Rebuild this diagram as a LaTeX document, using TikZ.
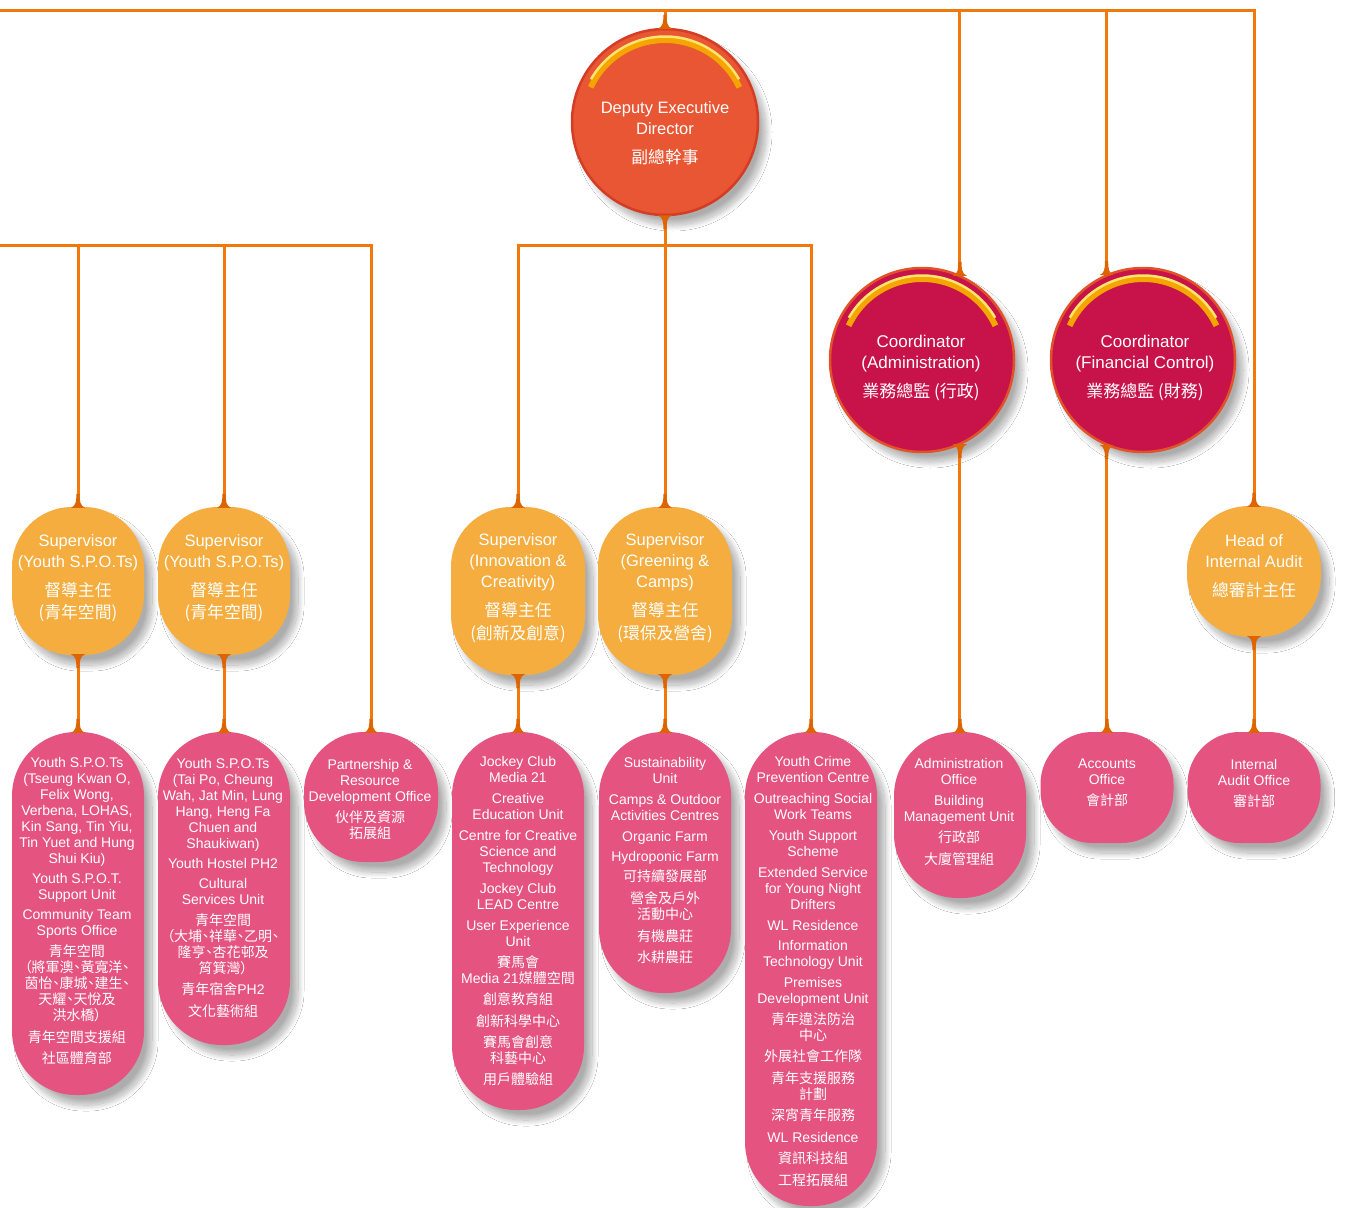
\documentclass[tikz,border=0pt]{standalone}
\usepackage{fontspec}
\setmainfont{Liberation Sans}
\newfontfamily\cjk{Noto Sans CJK TC}[RawFeature=+palt]
\newcommand\cjks{\cjk\fontsize{16.8}{22}\selectfont}
\usetikzlibrary{shadows.blur}
\definecolor{linec}{RGB}{242,120,12}
\definecolor{flarec}{RGB}{222,100,0}
\definecolor{pinkc}{RGB}{229,83,129}
\definecolor{supc}{RGB}{244,173,62}
\definecolor{dedc}{RGB}{233,86,52}
\definecolor{dedb}{RGB}{212,60,36}
\definecolor{coordc}{RGB}{200,18,74}
\definecolor{coordb}{RGB}{226,82,40}
\definecolor{arcgold}{RGB}{245,165,0}
\definecolor{arcyel}{RGB}{255,228,110}
\tikzset{
 shad/.style={blur shadow={shadow xshift=8pt, shadow yshift=-10pt, shadow blur radius=6pt, shadow blur steps=20, shadow opacity=32}},
 conn/.style={draw=linec, line width=3pt},
 pillbox/.style={shape=rectangle, fill=pinkc, minimum width=132pt, rounded corners=64pt, inner sep=0pt, shad},
 supbox/.style={shape=rectangle, fill=supc, rounded corners=60pt, minimum width=132pt, inner sep=0pt, shad},
 topcirc/.style={circle, minimum size=186pt, inner sep=0pt, line width=2.5pt, shad},
 ptext/.style={text=white, align=center, inner sep=0pt, font=\fontsize{14}{16}\selectfont},
 stext/.style={text=white, align=center, inner sep=0pt, font=\fontsize{16.5}{21}\selectfont},
 ctext/.style={text=white, align=center, inner sep=0pt, font=\fontsize{17}{20.5}\selectfont},
 flareup/.pic={\fill[flarec] (-7,1) .. controls (-2,-1) and (-1.6,-6) .. (-1.6,-13) -- (1.6,-13) .. controls (1.6,-6) and (2,-1) .. (7,1) -- cycle;},
 flaredown/.pic={\fill[flarec] (-7,-1) .. controls (-2,1) and (-1.6,6) .. (-1.6,13) -- (1.6,13) .. controls (1.6,6) and (2,1) .. (7,-1) -- cycle;},
}
\begin{document}
\begin{tikzpicture}[x=1pt,y=-1pt]
\fill[white] (0,0) rectangle (1350,1208);
\useasboundingbox (0,0) rectangle (1350,1208);

% top circles
\node[topcirc, fill=dedc, draw=dedb] (ded) at (665,122) {};
\node[topcirc, fill=coordc, draw=coordb, minimum size=184pt] (cadm) at (922,360) {};
\node[topcirc, fill=coordc, draw=coordb, minimum size=184pt] (cfin) at (1143,360) {};
\foreach \n/\r in {ded/84, cadm/83, cfin/83}{
  \draw[arcgold, line width=6pt] ([shift={(155:\r pt-2pt)}]\n.center) arc[start angle=155, end angle=25, radius=\r pt-2pt];
  \draw[arcyel, line width=2.5pt] ([shift={(150:\r pt+1.5pt)}]\n.center) arc[start angle=150, end angle=30, radius=\r pt+1.5pt];
}
\node[stext] (dedt) at (665,133) {Deputy Executive\\Director\\[8pt]{\cjks 副總幹事}};
\node[ctext] (cadmt) at (921,368) {Coordinator\\(Administration)\\[8.5pt]{\cjk 業務總監 (行政)}};
\node[ctext] (cfint) at (1145,368) {Coordinator\\(Financial Control)\\[8.5pt]{\cjk 業務總監 (財務)}};

% supervisors
\node[supbox, minimum height=148pt] (sy1) at (78,581) {};
\node[supbox, minimum height=148pt] (sy2) at (224,581) {};
\node[supbox, minimum width=134pt, minimum height=168pt] (sin) at (518,591) {};
\node[supbox, minimum width=134pt, minimum height=168pt] (sgr) at (665,591) {};
\node[supbox, minimum width=134pt, minimum height=131pt, rounded corners=62pt] (hia) at (1254,571.5) {};
\node[stext] (sy1t) at (78,578) {Supervisor\\(Youth S.P.O.Ts)\\[8pt]{\cjks 督導主任}\\[1pt]{\cjks (青年空間)}};
\node[stext] (sy2t) at (224,578) {Supervisor\\(Youth S.P.O.Ts)\\[8pt]{\cjks 督導主任}\\[1pt]{\cjks (青年空間)}};
\node[stext] (sint) at (518,588.5) {Supervisor\\(Innovation \&\\Creativity)\\[8pt]{\cjks 督導主任}\\[2pt]{\cjks (創新及創意)}};
\node[stext] (sgrt) at (665,588.5) {Supervisor\\(Greening \&\\Camps)\\[8pt]{\cjks 督導主任}\\[2pt]{\cjks (環保及營舍)}};
\node[stext] (hiat) at (1254,566.5) {Head of\\Internal Audit\\[8pt]{\cjks 總審計主任}};

% pills
\node[pillbox, minimum height=363pt] (p1) at (78,913.5) {};
\node[pillbox, minimum height=313pt] (p2) at (224,888.5) {};
\node[pillbox, minimum width=134pt, minimum height=130pt, rounded corners=60pt] (p3) at (371,797) {};
\node[pillbox, minimum height=378pt] (p4) at (518,921) {};
\node[pillbox, minimum height=261pt] (p5) at (665,862.5) {};
\node[pillbox, minimum height=474pt] (p6) at (811,969) {};
\node[pillbox, minimum height=166pt] (p7) at (960,815) {};
\node[pillbox, minimum width=133pt, minimum height=111pt, rounded corners=52pt] (p8) at (1107,787.5) {};
\node[pillbox, minimum width=133pt, minimum height=111pt, rounded corners=52pt] (p9) at (1254,787.5) {};

\node[ptext] (p1t) at (77,911) {Youth S.P.O.Ts\\(Tseung Kwan O,\\Felix Wong,\\Verbena, LOHAS,\\Kin Sang, Tin Yiu,\\Tin Yuet and Hung\\Shui Kiu)\\[4pt]Youth S.P.O.T.\\Support Unit\\[4pt]Community Team\\Sports Office\\[5pt]{\cjk 青年空間}\\{\cjk （將軍澳、黃寬洋、}\\{\cjk 茵怡、康城、建生、}\\{\cjk 天耀、天悅及}\\{\cjk 洪水橋）}\\[6pt]{\cjk 青年空間支援組}\\[5pt]{\cjk 社區體育部}};
\node[ptext] (p2t) at (223,888) {Youth S.P.O.Ts\\(Tai Po, Cheung\\Wah, Jat Min, Lung\\Hang, Heng Fa\\Chuen and\\Shaukiwan)\\[4pt]Youth Hostel PH2\\[4pt]Cultural\\Services Unit\\[5pt]{\cjk 青年空間}\\{\cjk （大埔、祥華、乙明、}\\{\cjk 隆亨、杏花邨及}\\{\cjk 筲箕灣）}\\[5pt]{\cjk 青年宿舍}PH2\\[6pt]{\cjk 文化藝術組}};
\node[ptext] (p3t) at (370,799) {Partnership \&\\Resource\\Development Office\\[5pt]{\cjk 伙伴及資源}\\{\cjk 拓展組}};
\node[ptext] (p4t) at (518,921.5) {Jockey Club\\Media 21\\[5pt]Creative\\Education Unit\\[5pt]Centre for Creative\\Science and\\Technology\\[5pt]Jockey Club\\LEAD Centre\\[5pt]User Experience\\Unit\\[5pt]{\cjk 賽馬會}\\Media 21{\cjk 媒體空間}\\[5pt]{\cjk 創意教育組}\\[6pt]{\cjk 創新科學中心}\\[5pt]{\cjk 賽馬會創意}\\{\cjk 科藝中心}\\[5pt]{\cjk 用戶體驗組}};
\node[ptext] (p5t) at (665,861) {Sustainability\\Unit\\[5pt]Camps \& Outdoor\\Activities Centres\\[5pt]Organic Farm\\[4pt]Hydroponic Farm\\[4pt]{\cjk 可持續發展部}\\[6pt]{\cjk 營舍及戶外}\\{\cjk 活動中心}\\[6pt]{\cjk 有機農莊}\\[5pt]{\cjk 水耕農莊}};
\node[ptext] (p6t) at (813,971.5) {Youth Crime\\Prevention Centre\\[5pt]Outreaching Social\\Work Teams\\[5pt]Youth Support\\Scheme\\[5pt]Extended Service\\for Young Night\\Drifters\\[5pt]WL Residence\\[4pt]Information\\Technology Unit\\[5pt]Premises\\Development Unit\\[5pt]{\cjk 青年違法防治}\\{\cjk 中心}\\[5pt]{\cjk 外展社會工作隊}\\[6pt]{\cjk 青年支援服務}\\{\cjk 計劃}\\[5pt]{\cjk 深宵青年服務}\\[6pt]WL Residence\\[5pt]{\cjk 資訊科技組}\\[6pt]{\cjk 工程拓展組}};
\node[ptext] (p7t) at (959,812) {Administration\\Office\\[5pt]Building\\Management Unit\\[5pt]{\cjk 行政部}\\[6pt]{\cjk 大廈管理組}};
\node[ptext] (p8t) at (1107,783) {Accounts\\Office\\[5pt]{\cjk 會計部}};
\node[ptext] (p9t) at (1254,783) {Internal\\Audit Office\\[5pt]{\cjk 審計部}};

% connectors
\coordinate (tl) at (0,10);
\coordinate (ml) at (0,245);
\coordinate (mr) at (665,245);
\draw[conn] (tl) -| (hia.north);
\draw[conn] (ded.north) -- (ded.north |- tl);
\draw[conn] (cadm.66) -- (cadm.66 |- tl);
\draw[conn] (cfin.113) -- (cfin.113 |- tl);
\draw[conn] (cadm.-66) -- (cadm.-66 |- p7.north);
\draw[conn] (cfin.-113) -- (cfin.-113 |- p8.north);
\draw[conn] (ml) -| (p3.north);
\draw[conn] (sy1.north) -- (sy1.north |- ml);
\draw[conn] (sy2.north) -- (sy2.north |- ml);
\draw[conn] (sin.north) |- (mr) -| (p6.north);
\draw[conn] (ded.south) -- (mr) -- (sgr.north);
\draw[conn] (sy1.south) -- (p1.north);
\draw[conn] (sy2.south) -- (p2.north);
\draw[conn] (sin.south) -- (p4.north);
\draw[conn] (sgr.south) -- (p5.north);
\draw[conn] (hia.south) -- (p9.north);

% flares
\foreach \a in {ded.north, cadm.66, cfin.113, sy1.north, sy2.north, sin.north, sgr.north, hia.north, p1.north, p2.north, p3.north, p4.north, p5.north, p6.north, p7.north, p8.north, p9.north}
  \pic at (\a) {flareup};
\foreach \a in {ded.south, cadm.-66, cfin.-113, sy1.south, sy2.south, sin.south, sgr.south, hia.south}
  \pic at (\a) {flaredown};
\end{tikzpicture}
\end{document}
